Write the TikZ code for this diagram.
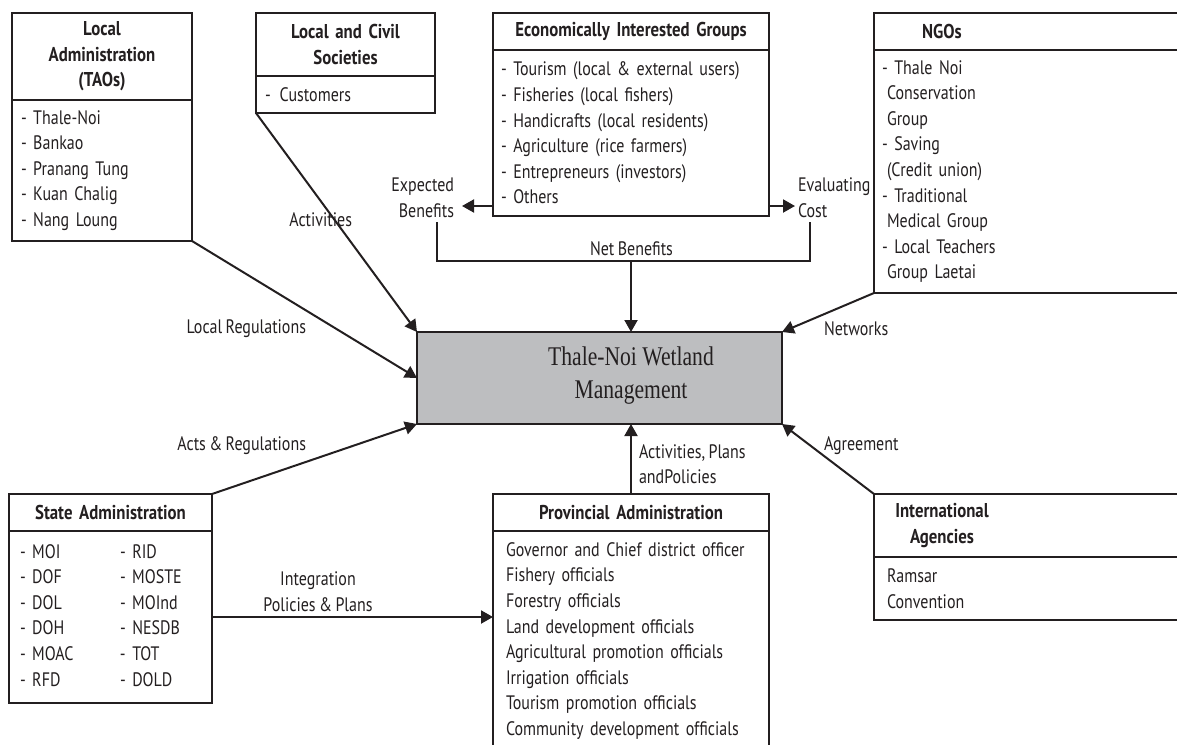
\documentclass[tikz,border=0pt]{standalone}
\usepackage{fontspec}
\usetikzlibrary{arrows.meta,calc}
\newfontfamily\ptsans[FakeStretch=0.82,WordSpace=0.8]{PT Sans}
\newfontfamily\ptsansbold[FakeStretch=0.84,WordSpace=0.85]{PT Sans}
\newfontfamily\mainser[FakeStretch=0.8]{Liberation Serif}
\newcommand\txtf{\ptsans\fontsize{19.5}{25.6}\selectfont}
\newcommand\hdf{\ptsansbold\bfseries\fontsize{20}{25.6}\selectfont}
\newcommand\serf{\mainser\fontsize{27}{33}\selectfont}
\definecolor{mgray}{RGB}{189,190,192}
\definecolor{ink}{RGB}{35,31,32}
\begin{document}
\begin{tikzpicture}[x=1pt,y=-1pt,line width=2pt,
  bx/.style={draw=ink, line width=2pt, anchor=north west, inner ysep=0pt, outer sep=0pt, text=ink},
  hd/.style={bx, font=\hdf, align=center, inner xsep=0pt},
  bd/.style={bx, font=\txtf, align=left},
  lbl/.style={font=\txtf, inner sep=0pt, text=ink},
  arr/.style={draw=ink, -{Triangle[length=12pt,width=13pt]}, line width=2pt}]
\useasboundingbox (0,0) rectangle (1177,744);

% Local Administration
\node[hd, text width=180pt, minimum height=87pt] (lah) at (12,13) {Local\\Administration\\(TAOs)};
\node[bd, text width=162pt, inner xsep=9pt, minimum height=141pt] (lab) at (12,100)
  {- Thale-Noi\\- Bankao\\- Pranang Tung\\- Kuan Chalig\\- Nang Loung};

% Local and Civil Societies
\node[hd, text width=179pt, minimum height=63pt] (lch) at (256,13) {Local and Civil\\Societies};
\node[bd, text width=161pt, inner xsep=9pt, minimum height=37pt] (lcb) at (256,76) {-\hspace{9pt}Customers};

% Economically Interested Groups
\node[hd, text width=276pt, minimum height=37pt] (eh) at (493,13) {Economically Interested Groups};
\node[bd, text width=260pt, inner xsep=8pt, minimum height=166pt] (eb) at (493,50)
  {- Tourism (local \& external users)\\- Fisheries (local fishers)\\- Handicrafts (local residents)\\- Agriculture (rice farmers)\\- Entrepreneurs (investors)\\- Others};

% NGOs
\node[hd, text width=311pt, align=left, minimum height=37pt] (nh) at (874,13) {\parbox{136pt}{\centering NGOs}};
\node[bd, text width=295pt, inner xsep=8pt, minimum height=243pt] (nb) at (874,50)
  {- Thale Noi\\\hspace*{5pt}Conservation\\\hspace*{5pt}Group\\- Saving\\\hspace*{5pt}(Credit union)\\- Traditional\\\hspace*{5pt}Medical Group\\- Local Teachers\\\hspace*{5pt}Group Laetai};

% Main
\node[draw=ink, fill=mgray, line width=2pt, anchor=north west, minimum width=365pt, minimum height=92pt, inner sep=0pt, outer sep=0pt] (main) at (417,332) {};
\node[font=\serf, align=center, inner sep=0pt, text=ink] (mt) at (631,376) {Thale-Noi Wetland\\Management};

% State Administration
\node[hd, text width=203pt, minimum height=37pt] (sh) at (9,494) {State Administration};
\node[bd, text width=181pt, inner xsep=11pt, minimum height=172pt] (sb) at (9,531)
  {\begin{tabular}{@{}p{100pt}@{}l@{}}
   - MOI & - RID\\
   - DOF & - MOSTE\\
   - DOL & - MOInd\\
   - DOH & - NESDB\\
   - MOAC & - TOT\\
   - RFD & - DOLD
  \end{tabular}};

% Provincial Administration
\node[hd, text width=276pt, minimum height=37pt] (ph) at (493,494) {Provincial Administration};
\node[bd, text width=250pt, inner xsep=13pt, minimum height=220pt] (pb) at (493,531)
  {Governor and Chief district officer\\Fishery officials\\Forestry officials\\Land development officials\\Agricultural promotion officials\\Irrigation officials\\Tourism promotion officials\\Community development officials};

% International Agencies
\node[hd, text width=311pt, align=left, minimum height=63pt] (ih) at (874,494) {\parbox{136pt}{\centering International\\Agencies}};
\node[bd, text width=285pt, inner xsep=13pt, minimum height=63pt] (ib) at (874,557) {Ramsar\\Convention};

% Labels
\node[lbl, anchor=east] (lLR) at (307,329) {Local Regulations};
\node[lbl, anchor=east] (lAR) at (307,446) {Acts \& Regulations};
\node[lbl, anchor=east] (lAct) at (353,220) {Activities};
\node[lbl, anchor=east, align=right] (lExp) at (455,197.5) {Expected\\Benefits};
\node[lbl, anchor=west, align=left] (lEval) at (797,197.5) {Evaluating\\Cost};
\node[lbl] (lNet) at (631.5,249) {Net Benefits};
\node[lbl, anchor=west] (lNetw) at (823,329) {Networks};
\node[lbl, anchor=west] (lAgr) at (823,446) {Agreement};
\node[lbl, anchor=west, align=left] (lAPP) at (638,464) {Activities, Plans\\andPolicies};
\node[lbl, align=center] (lInt) at (318,591.5) {Integration\\Policies \& Plans};

% Connector coordinates
\coordinate (expTip) at (462,206);
\coordinate (evTip) at (795,206);
\coordinate (nbL) at (437,222);
\coordinate (nbR) at (810,222);
\coordinate (nbJ) at (631,261);

% Connectors
\draw[arr] (lab.south east) -- (main.west);
\draw[arr] (lcb.south west) -- (main.north west);
\draw[arr] (sh.north east) -- (main.south west);
\draw[arr] (nb.south west) -- (main.north east);
\draw[arr] (ih.north west) -- (main.south east);
\draw[arr] (ph.north) -- (ph.north |- main.south);
\draw[arr] (sb.east) -- (sb.east -| pb.west);
\draw[arr] ($(eb.south west)+(0,-10)$) -- (expTip);
\draw[arr] ($(eb.south east)+(0,-10)$) -- (evTip);
\draw[draw=ink] (nbL) -- ++(0,39) -| (nbR);
\draw[arr] (nbJ) -- (nbJ |- main.north);
\end{tikzpicture}
\end{document}
